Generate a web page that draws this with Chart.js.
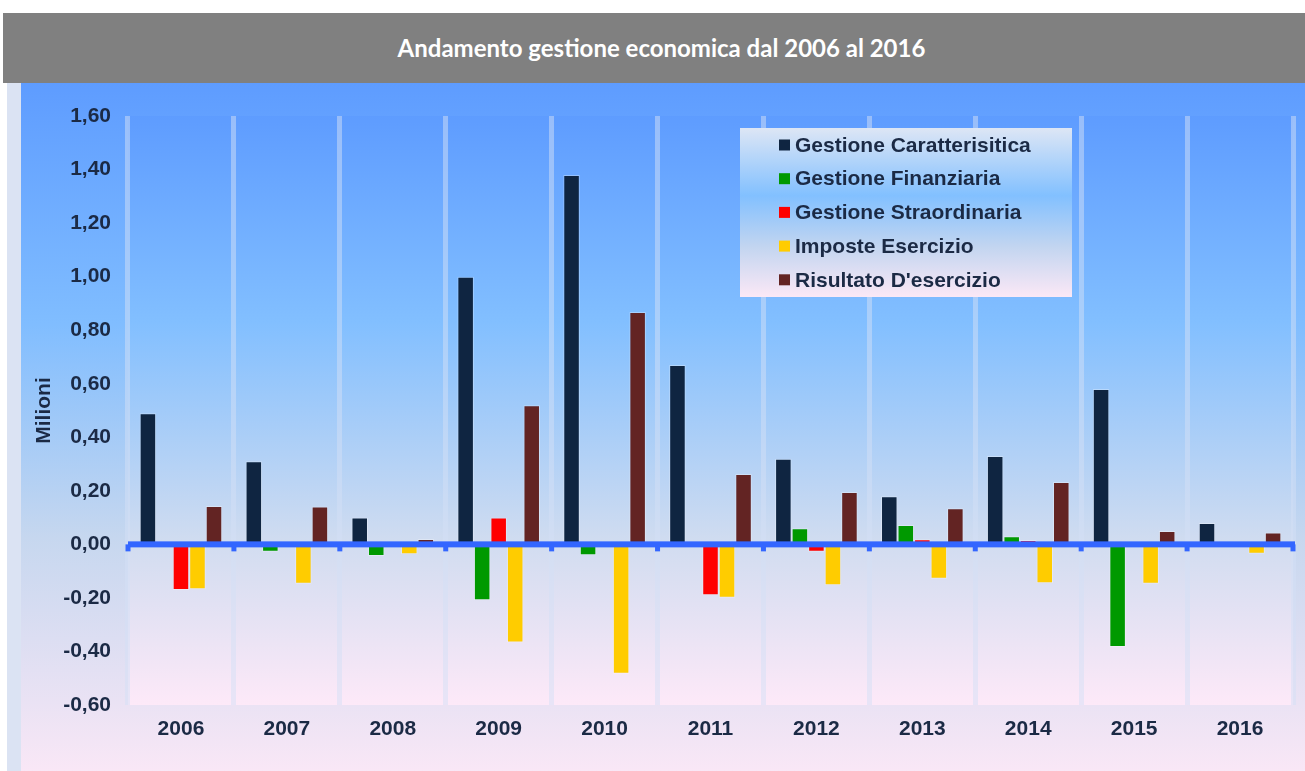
<!DOCTYPE html>
<html>
<head>
<meta charset="utf-8">
<script src="https://cdn.jsdelivr.net/npm/chart.js@4/dist/chart.umd.min.js"></script>
<style>
  html, body { margin: 0; padding: 0; background: #ffffff; }
  body { width: 1305px; height: 771px; position: relative; overflow: hidden; }
  #titlebar {
    position: absolute; left: 3px; top: 13px; width: 1302px; height: 70px;
    background: #808080; color: #ffffff;
    font-family: Lato, "Open Sans", sans-serif; font-weight: bold; font-size: 24px;
    line-height: 70px; text-align: center; box-sizing: border-box; padding-left: 15px;
  }
  #strip { position: absolute; left: 7px; top: 83px; width: 14px; height: 688px; background: #dbe3f3; }
  #wrap {
    position: absolute; left: 21px; top: 83px; width: 1284px; height: 688px;
    background: linear-gradient(to bottom, #5e9cff 0%, #80bdff 35%, #c6d7ef 66%, #f9e7f6 100%);
  }
</style>
</head>
<body>
<div id="titlebar">Andamento gestione economica dal 2006 al 2016</div>
<div id="strip"></div>
<div id="wrap"><canvas id="myChart" width="1284" height="688"></canvas></div>
<script>
const years = ['2006', '2007', '2008', '2009', '2010', '2011', '2012', '2013', '2014', '2015', '2016'];
const caratteristica = [0.49, 0.31, 0.10, 1.00, 1.38, 0.67, 0.32, 0.18, 0.33, 0.58, 0.08];
const finanziaria = [0, -0.028, -0.043, -0.209, -0.041, -0.012, 0.06, 0.072, 0.03, -0.383, 0];
const straordinaria = [-0.170, 0, 0, 0.10, 0, -0.19, -0.028, 0.019, 0.016, 0, 0];
const imposte = [-0.168, -0.147, -0.037, -0.367, -0.483, -0.199, -0.153, -0.128, -0.145, -0.147, -0.035];
const risultato = [0.143, 0.141, 0.02, 0.52, 0.868, 0.263, 0.196, 0.135, 0.233, 0.05, 0.044];

const textColor = '#1b2a45';
const fontFamily = '"Liberation Sans", Arial, sans-serif';

// plot area background gradient
const plotBg = {
  id: 'plotBg',
  beforeDraw(chart) {
    const { ctx, chartArea: a } = chart;
    const g = ctx.createLinearGradient(0, a.top, 0, a.bottom);
    g.addColorStop(0, '#5e9cff');
    g.addColorStop(0.35, '#82bfff');
    g.addColorStop(0.72, '#d0dcf0');
    g.addColorStop(1, '#fde9f8');
    ctx.save();
    ctx.fillStyle = g;
    ctx.fillRect(a.left, a.top, a.right - a.left, a.bottom - a.top);
    ctx.restore();
  }
};

// thick zero line with little ticks
const zeroLine = {
  id: 'zeroLine',
  afterDatasetsDraw(chart) {
    const { ctx, chartArea: a, scales } = chart;
    const y = scales.y.getPixelForValue(0);
    const n = years.length;
    const w = (a.right - a.left) / n;
    ctx.save();
    ctx.fillStyle = '#3366ff';
    ctx.fillRect(a.left, y - 3, a.right - a.left + 2, 6);
    for (let i = 0; i <= n; i++) {
      const x = a.left + i * w;
      ctx.fillRect(x - 2.5, y, 5, 7);
    }
    ctx.restore();
  }
};

// legend box inside the plot
const boxLegend = {
  id: 'boxLegend',
  afterDraw(chart) {
    const { ctx } = chart;
    const x = 719, y = 45, w = 332, h = 169;
    const g = ctx.createLinearGradient(0, y, 0, y + h);
    g.addColorStop(0, '#dde6f5');
    g.addColorStop(0.4, '#82c0ff');
    g.addColorStop(0.7, '#c2d5f0');
    g.addColorStop(1, '#fbe8f6');
    ctx.save();
    ctx.fillStyle = g;
    ctx.fillRect(x, y, w, h);
    ctx.font = 'bold 21px ' + fontFamily;
    ctx.textBaseline = 'middle';
    chart.data.datasets.forEach((ds, i) => {
      const ry = y + 17 + i * 33.7;
      ctx.fillStyle = ds.backgroundColor;
      ctx.fillRect(x + 39, ry - 5.5, 11, 11);
      ctx.fillStyle = textColor;
      ctx.fillText(ds.label, x + 55, ry + 1);
    });
    ctx.restore();
  }
};

const border = 'rgba(255,255,255,0.3)';
const ctx = document.getElementById('myChart').getContext('2d');
const myChart = new Chart(ctx, {
  type: 'bar',
  data: {
    labels: years,
    datasets: [
      { label: 'Gestione Caratterisitica', data: caratteristica, backgroundColor: '#0f2541', borderColor: border, borderWidth: 1 },
      { label: 'Gestione Finanziaria', data: finanziaria, backgroundColor: '#009900', borderColor: border, borderWidth: 1 },
      { label: 'Gestione Straordinaria', data: straordinaria, backgroundColor: '#ff0000', borderColor: border, borderWidth: 1 },
      { label: 'Imposte Esercizio', data: imposte, backgroundColor: '#ffcc00', borderColor: border, borderWidth: 1 },
      { label: "Risultato D'esercizio", data: risultato, backgroundColor: '#632423', borderColor: border, borderWidth: 1 }
    ]
  },
  options: {
    responsive: false,
    animation: false,
    layout: { padding: { top: 33, right: 12, left: 0, bottom: 0 } },
    datasets: { bar: { categoryPercentage: 0.78, barPercentage: 1.0 } },
    plugins: {
      legend: { display: false },
      tooltip: { enabled: false }
    },
    scales: {
      x: {
        offset: true,
        grid: { offset: true, color: 'rgba(212,224,245,0.5)', lineWidth: 5, drawTicks: false },
        border: { display: false },
        ticks: { color: textColor, padding: 12, font: { family: fontFamily, size: 21, weight: 'bold' } },
        afterFit(scale) { scale.height = 66; }
      },
      y: {
        min: -0.6,
        max: 1.6,
        grid: { display: false, drawTicks: false },
        border: { display: false },
        ticks: {
          stepSize: 0.2,
          color: textColor,
          padding: 17,
          font: { family: fontFamily, size: 21, weight: 'bold' },
          callback: v => v.toFixed(2).replace('.', ',')
        },
        title: {
          display: true,
          text: 'Milioni',
          color: textColor,
          padding: { top: 11, bottom: 0 },
          font: { family: fontFamily, size: 21, weight: 'bold' }
        },
        afterFit(scale) { scale.width = 107; }
      }
    }
  },
  plugins: [plotBg, zeroLine, boxLegend]
});
</script>
</body>
</html>
